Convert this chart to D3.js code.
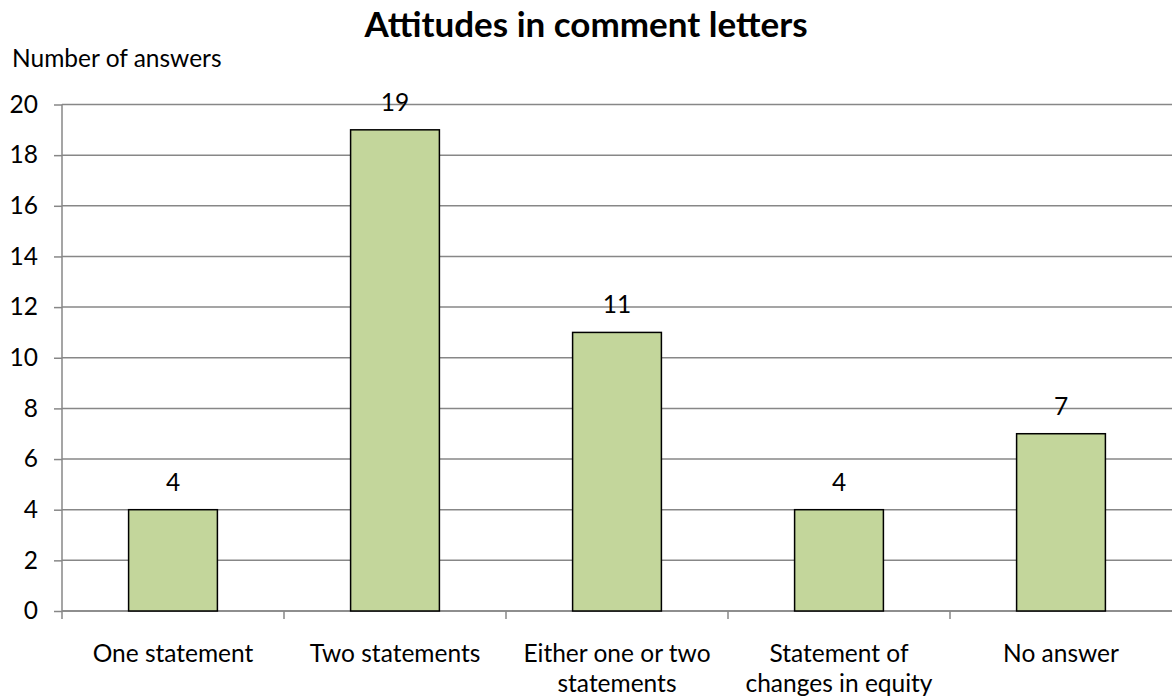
<!DOCTYPE html>
<html>
<head>
<meta charset="utf-8">
<script src="https://cdn.jsdelivr.net/npm/d3@7"></script>
<style>
  html, body { margin: 0; padding: 0; background: #fff; }
  svg { display: block; font-family: "Lato", "Open Sans", sans-serif; }
</style>
</head>
<body>
<svg id="chart" width="1172" height="700"></svg>
<script>
const title = "Attitudes in comment letters";
const yAxisTitle = "Number of answers";
const categories = ["One statement", "Two statements", "Either one or two statements", "Statement of changes in equity", "No answer"];
const categoryLines = [["One statement"], ["Two statements"], ["Either one or two", "statements"], ["Statement of", "changes in equity"], ["No answer"]];
const values = [4, 19, 11, 4, 7];
const yTicks = [0, 2, 4, 6, 8, 10, 12, 14, 16, 18, 20];

const svg = d3.select("#chart");
const margin = { left: 62, right: 0, top: 104.5, bottom: 89 };
const W = 1172, H = 700;
const fs = 24.5;

const x = d3.scaleBand().domain(categories).range([margin.left, W - margin.right]).paddingInner(0.6).paddingOuter(0.3);
const xEdges = d3.scaleBand().domain(categories).range([margin.left, W - margin.right]).padding(0);
const y = d3.scaleLinear().domain([0, 20]).range([H - margin.bottom, margin.top]);

const gridColor = "#878787";

// gridlines
svg.append("g").selectAll("line").data(yTicks).join("line")
  .attr("x1", margin.left).attr("x2", W)
  .attr("y1", d => y(d)).attr("y2", d => y(d))
  .attr("stroke", gridColor).attr("stroke-width", 1.5);

// y axis
const yAxis = svg.append("g").attr("transform", `translate(${margin.left},0)`)
  .call(d3.axisLeft(y).tickValues(yTicks).tickSize(8).tickPadding(16));
yAxis.select(".domain").attr("stroke", gridColor).attr("stroke-width", 1.5)
  .attr("d", `M0,${y(20)}V${y(0) + 8}`);
yAxis.selectAll(".tick line").attr("stroke", gridColor).attr("stroke-width", 1.5);
yAxis.selectAll(".tick text").attr("font-size", fs).attr("fill", "#000").attr("font-family", "Lato, sans-serif");

// x axis ticks at category edges
const edges = categories.map(c => xEdges(c)).slice(1);
svg.append("g").selectAll("line").data(edges).join("line")
  .attr("x1", d => d).attr("x2", d => d)
  .attr("y1", y(0)).attr("y2", y(0) + 8)
  .attr("stroke", gridColor).attr("stroke-width", 1.5);
svg.append("line").attr("x1", margin.left).attr("x2", W).attr("y1", y(0)).attr("y2", y(0))
  .attr("stroke", gridColor).attr("stroke-width", 1.5);

// bars
svg.append("g").selectAll("rect").data(values).join("rect")
  .attr("x", (d, i) => x(categories[i]))
  .attr("width", x.bandwidth())
  .attr("y", d => y(d))
  .attr("height", d => y(0) - y(d))
  .attr("fill", "#c3d69b")
  .attr("stroke", "#000").attr("stroke-width", 1.5);

// value labels
svg.append("g").selectAll("text").data(values).join("text")
  .attr("x", (d, i) => x(categories[i]) + x.bandwidth() / 2)
  .attr("y", d => y(d) - 19)
  .attr("text-anchor", "middle")
  .attr("font-size", fs)
  .text(d => d);

// category labels
const catG = svg.append("g");
categoryLines.forEach((lines, i) => {
  const cx = x(categories[i]) + x.bandwidth() / 2;
  lines.forEach((ln, j) => {
    catG.append("text").attr("x", cx).attr("y", y(0) + 51 + j * 29.5)
      .attr("text-anchor", "middle").attr("font-size", fs).text(ln);
  });
});

// titles
svg.append("text").attr("x", 586).attr("y", 37).attr("text-anchor", "middle")
  .attr("font-size", 35).attr("font-weight", "bold").text(title);
svg.append("text").attr("x", 12).attr("y", 67).attr("font-size", fs).text(yAxisTitle);
</script>
</body>
</html>
